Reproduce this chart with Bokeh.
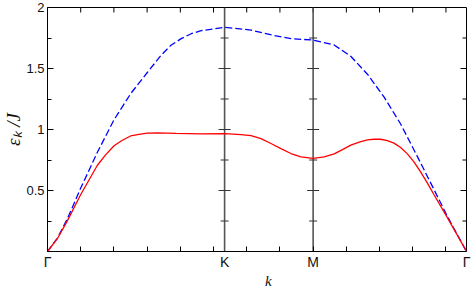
import math
from bokeh.plotting import figure
from bokeh.models import Range1d, FixedTicker, Title
from bokeh.embed import file_html
from bokeh.resources import INLINE

# ---- data ----
sym_k = [0.0, 4.1888, 6.2832, 9.9108]
sym_labels = ["Γ", "K", "M", "Γ"]

line_k = [4.1888, 6.2832]

red_k = [0.000, 0.236, 0.472, 0.786, 1.180, 1.369, 1.574, 1.770, 1.966, 2.162, 2.360, 2.596,
         3.044, 3.634, 4.189, 4.578, 4.814, 5.050, 5.286, 5.522, 5.758, 5.994, 6.283,
         6.543, 6.780, 6.978, 7.173, 7.409, 7.568, 7.723, 7.881, 8.040, 8.195, 8.353,
         8.512, 8.668, 8.825, 8.983, 9.139, 9.455, 9.911]
red_e = [0.000, 0.107, 0.253, 0.467, 0.707, 0.790, 0.867, 0.912, 0.947, 0.960, 0.971, 0.973,
         0.968, 0.964, 0.966, 0.958, 0.950, 0.925, 0.885, 0.843, 0.803, 0.776, 0.763,
         0.776, 0.800, 0.835, 0.872, 0.901, 0.915, 0.920, 0.920, 0.909, 0.888, 0.853,
         0.800, 0.735, 0.653, 0.563, 0.467, 0.280, 0.000]

blue_k = [0.000, 0.236, 0.472, 0.786, 1.180, 1.574, 1.966, 2.360, 2.690, 2.920, 3.162,
          3.400, 3.634, 4.189, 4.814, 5.357, 5.758, 6.283, 6.780, 7.173, 7.568, 7.959,
          8.353, 8.747, 9.139, 9.455, 9.911]
blue_e = [0.000, 0.110, 0.270, 0.520, 0.813, 1.080, 1.293, 1.467, 1.610, 1.690, 1.745,
          1.785, 1.810, 1.837, 1.815, 1.770, 1.745, 1.733, 1.693, 1.600, 1.453, 1.267,
          1.045, 0.780, 0.510, 0.290, 0.000]

y_major = [0.5, 1.0, 1.5, 2.0]
y_minor = [0.25, 0.75, 1.25, 1.75]
y_labels = ["0.5", "1", "1.5", "2"]
k_ticks = [0.7854, 1.5708, 2.3562, 3.1416, 3.9270, 4.7124, 5.4978, 6.2832,
           7.0686, 7.8540, 8.6394, 9.4248]
k_max = 9.9108
e_max = 2.0

# ---- figure ----
p = figure(width=474, height=291, output_backend="svg", toolbar_location=None,
           x_range=Range1d(0, k_max), y_range=Range1d(0, e_max),
           min_border_left=46, min_border_right=8, min_border_top=7, min_border_bottom=36)
p.grid.visible = False
p.outline_line_color = "black"
p.outline_line_width = 1
p.background_fill_color = "white"
p.border_fill_color = "white"

# left axis
yl = p.yaxis[0]
yl.ticker = FixedTicker(ticks=y_major, minor_ticks=y_minor)
yl.major_label_overrides = {t: s for t, s in zip(y_major, y_labels)}
yl.axis_line_color = "black"
yl.major_tick_in = 6
yl.major_tick_out = 0
yl.minor_tick_in = 4
yl.minor_tick_out = 0
yl.major_tick_line_color = "black"
yl.minor_tick_line_color = "black"
yl.major_label_text_font = "Liberation Sans"
yl.major_label_text_font_size = "13px"
yl.major_label_text_color = "#111111"
yl.major_label_standoff = 3

# bottom axis: labels at symmetry points, small ticks every pi/4
xb = p.xaxis[0]
xb.ticker = FixedTicker(ticks=sym_k, minor_ticks=k_ticks)
xb.major_label_overrides = {t: s for t, s in zip(sym_k, sym_labels)}
xb.axis_line_color = "black"
xb.major_tick_in = 0
xb.major_tick_out = 0
xb.minor_tick_in = 5
xb.minor_tick_out = 0
xb.minor_tick_line_color = "black"
xb.major_label_text_font = "Liberation Sans"
xb.major_label_text_font_size = "14px"
xb.major_label_text_color = "#111111"
xb.major_label_standoff = 2
xb.axis_label = "\u00a0" * 6 + "k"
xb.axis_label_text_font = "Liberation Serif"
xb.axis_label_text_font_style = "italic"
xb.axis_label_text_font_size = "15px"
xb.axis_label_text_color = "#111111"
xb.axis_label_standoff = 0

# y-axis title
p.add_layout(Title(text="εₖ /J", align="center", offset=8, standoff=0,
                   text_font="Liberation Serif", text_font_style="italic",
                   text_font_size="19px", text_color="#111111"), "left")

# inward ticks on the top and right frame edges
p.scatter(x=k_ticks, y=[e_max] * len(k_ticks), marker="dash", angle=math.pi / 2,
          size=10, line_color="black", line_width=1)
p.scatter(x=[k_max] * (len(y_major) - 1), y=y_major[:-1], marker="dash", size=12,
          line_color="black", line_width=1)
p.scatter(x=[k_max] * len(y_minor), y=y_minor, marker="dash", size=8,
          line_color="black", line_width=1)

# vertical lines at K and M, with crossing ticks
p.segment(x0=line_k, y0=[0, 0], x1=line_k, y1=[e_max, e_max], line_color="#555555",
          line_width=1.6)
for kk in line_k:
    p.scatter(x=[kk] * (len(y_major) - 1), y=y_major[:-1], marker="dash", size=12,
              line_color="#333333", line_width=1.1)
    p.scatter(x=[kk] * len(y_minor), y=y_minor, marker="dash", size=8,
              line_color="#333333", line_width=1.1)

# curves
p.line(blue_k, blue_e, line_color="#0000ff", line_width=1.3, line_dash="7 3")
p.line(red_k, red_e, line_color="#ff0000", line_width=1.3)

open("out.html", "w").write(file_html(p, INLINE))
